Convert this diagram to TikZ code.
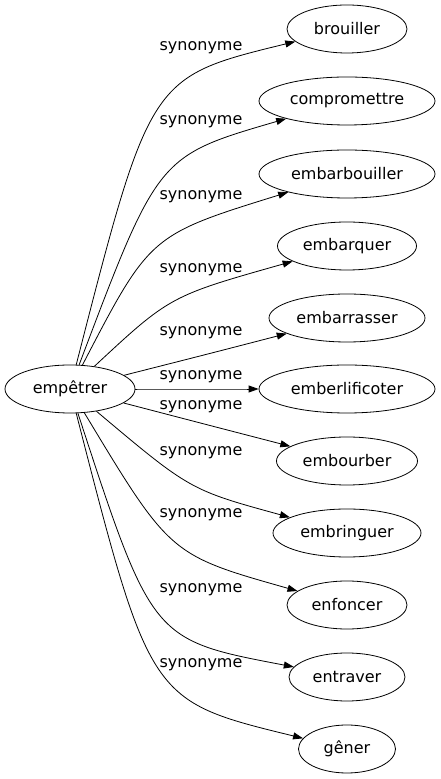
\documentclass[tikz,border=0pt]{standalone}
\usepackage{fontspec}
\setmainfont{DejaVu Sans}
\usetikzlibrary{arrows.meta,shapes.geometric}
\begin{document}
\begin{tikzpicture}[x=1pt,y=1pt,font=\fontsize{16}{19}\selectfont,line width=0.8pt,
  word/.style={draw,ellipse,inner sep=0pt,minimum height=48pt},
  syn/.style={-{Triangle[length=10pt,width=7pt]}}]
\useasboundingbox (0,0) rectangle (440,779);
\node[word,minimum width=130pt] (empetrer) at (70,390) {empêtrer};
\foreach \id/\txt/\y/\w/\cx/\cy/\ly in {
  brouiller/brouiller/750/120/150/702/731,
  compromettre/compromettre/678/176/158/623/657,
  embarbouiller/embarbouiller/605/176/150/544/582,
  embarquer/embarquer/533/139/170/483/509,
  embarrasser/embarrasser/461/156/208/425/446,
  emberlificoter/emberlificoter/390/176/208/390/402,
  embourber/embourber/318/141/208/354/372,
  embringuer/embringuer/246/148/190/289/326,
  enfoncer/enfoncer/174/120/170/224/264,
  entraver/entraver/102/116/152/139/189,
  gener/gêner/30/97/150/78/114}
{\node[word,minimum width=\w pt] (\id) at (347,\y) {\txt};
 \draw[syn] (empetrer) .. controls (\cx,\cy) .. (\id);
 \node (l\id) at (201,\ly) {synonyme};}
\end{tikzpicture}
\end{document}
